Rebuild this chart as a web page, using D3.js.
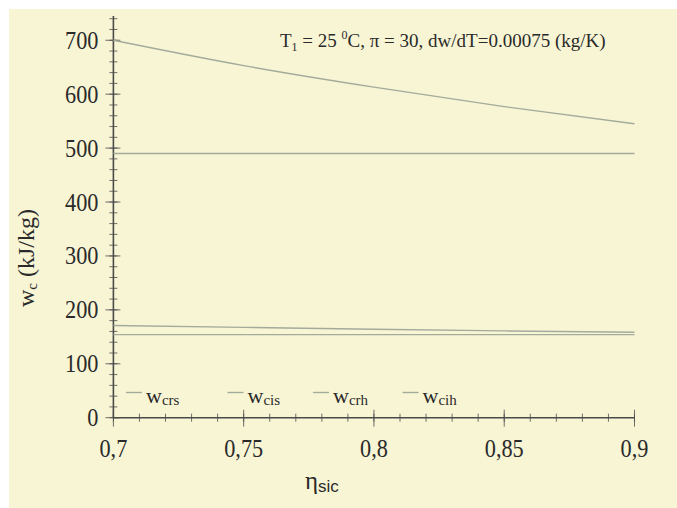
<!DOCTYPE html>
<html>
<head>
<meta charset="utf-8">
<script src="https://cdn.jsdelivr.net/npm/d3@7"></script>
<style>
  body { margin: 0; background: #fff; }
  svg { display: block; }
  text { font-family: "Liberation Serif", "Times New Roman", serif; fill: #2a2a2a; }
</style>
</head>
<body>
<div class="chart"></div>
<script>
// values
let eta = [0.7, 0.75, 0.8, 0.85, 0.9];
let wCrs = [700, 653, 613, 577, 545];
let wCis = [490, 490, 490, 490, 490];
let wCrh = [171, 167.5, 164, 161, 158.5];
let wCih = [154, 154, 154, 154, 154];
let seriesNames = ['crs', 'cis', 'crh', 'cih'];
let xTicks = [0.7, 0.75, 0.8, 0.85, 0.9];
let yTicks = [0, 100, 200, 300, 400, 500, 600, 700];

let W = 677, H = 508;
let margin = {top: 16, right: 42.5, bottom: 90.3, left: 113.4};
let width = W - margin.left - margin.right;
let height = H - margin.top - margin.bottom;

let svg = d3.select('.chart')
  .append('svg')
    .attr('width', W)
    .attr('height', H);

svg.append('rect')
  .attr('x', 9)
  .attr('y', 9)
  .attr('width', W - 9)
  .attr('height', H - 9)
  .style('fill', '#f8f5d5');

let g = svg.append('g')
  .attr('transform', `translate(${margin.left}, ${margin.top})`);

let xScale = d3.scaleLinear()
  .domain([0.7, 0.9])
  .range([0, width]);

let yScale = d3.scaleLinear()
  .domain([0, 745])
  .range([height, 0]);

let axisColor = '#4a4a4a';
let lineColor = '#a3ab9b';

// minor ticks (crossing the axis)
g.selectAll('.xminor')
  .data(d3.range(0.7, 0.9001, 0.01))
  .enter().append('line')
    .attr('x1', d => xScale(d)).attr('x2', d => xScale(d))
    .attr('y1', height - 4).attr('y2', height + 4)
    .style('stroke', axisColor).style('stroke-width', 0.8);

g.selectAll('.yminor')
  .data(d3.range(0, 745, 20))
  .enter().append('line')
    .attr('y1', d => yScale(d)).attr('y2', d => yScale(d))
    .attr('x1', -4).attr('x2', 4)
    .style('stroke', axisColor).style('stroke-width', 0.8);

// major ticks
g.selectAll('.xmajor')
  .data(xTicks)
  .enter().append('line')
    .attr('x1', d => xScale(d)).attr('x2', d => xScale(d))
    .attr('y1', height - 8).attr('y2', height + 9)
    .style('stroke', axisColor).style('stroke-width', 0.8);

g.selectAll('.ymajor')
  .data(yTicks)
  .enter().append('line')
    .attr('y1', d => yScale(d)).attr('y2', d => yScale(d))
    .attr('x1', -8).attr('x2', 7)
    .style('stroke', axisColor).style('stroke-width', 0.8);

// axis lines
g.append('line')
  .attr('x1', 0).attr('x2', width)
  .attr('y1', height).attr('y2', height)
  .style('stroke', axisColor).style('stroke-width', 1.6);
g.append('line')
  .attr('x1', 0).attr('x2', 0)
  .attr('y1', 0).attr('y2', height)
  .style('stroke', axisColor).style('stroke-width', 1.6);

// tick labels (the original font is narrow and tall)
g.selectAll('.xlabel')
  .data(xTicks)
  .enter().append('text')
    .attr('transform', d => `translate(${xScale(d)}, ${height + 39}) scale(0.89, 1)`)
    .attr('text-anchor', 'middle')
    .style('font-size', '25px')
    .text(d => String(d).replace('.', ','));

g.selectAll('.ylabel')
  .data(yTicks)
  .enter().append('text')
    .attr('transform', d => `translate(-15, ${yScale(d) + 8.5}) scale(0.89, 1)`)
    .attr('text-anchor', 'end')
    .style('font-size', '25px')
    .text(d => d);

// series
let series = [wCrs, wCis, wCrh, wCih];
let line = d3.line()
  .x((d, i) => xScale(eta[i]))
  .y(d => yScale(d))
  .curve(d3.curveMonotoneX);

g.selectAll('.series')
  .data(series)
  .enter().append('path')
    .attr('d', d => line(d))
    .style('fill', 'none')
    .style('stroke', lineColor)
    .style('stroke-width', 1.4);

// legend
let legendX = [126, 227.5, 313, 402.5];
let legend = svg.selectAll('.legend')
  .data(seriesNames)
  .enter().append('g')
    .attr('transform', (d, i) => `translate(${legendX[i]}, 392.5)`);
legend.append('line')
  .attr('x1', 0).attr('x2', 16)
  .style('stroke', lineColor).style('stroke-width', 1.4);
let lt = legend.append('text')
  .attr('x', 20)
  .attr('y', 10.5)
  .style('font-size', '22px');
lt.append('tspan').text('w');
lt.append('tspan')
  .attr('dy', 2)
  .style('font-size', '15px')
  .text(d => d);

// title
let title = svg.append('text')
  .attr('x', 280)
  .attr('y', 47)
  .style('font-size', '19px');
title.append('tspan').text('T');
title.append('tspan').attr('dy', 4).style('font-size', '12px').text('1');
title.append('tspan').attr('dy', -4).text(' = 25 ');
title.append('tspan').attr('dy', -8).style('font-size', '12px').text('0');
title.append('tspan').attr('dy', 8).text('C, π = 30, dw/dT=0.00075 (kg/K)');

// y axis title
let yt = svg.append('text')
  .attr('transform', 'translate(34, 258) rotate(-90)')
  .attr('text-anchor', 'middle')
  .style('font-size', '24px');
yt.append('tspan').text('w');
yt.append('tspan').attr('dy', 3).style('font-size', '15px').text('c');
yt.append('tspan').attr('dy', -3).text(' (kJ/kg)');

// x axis title
let xt = svg.append('text')
  .attr('x', 305)
  .attr('y', 489);
xt.append('tspan').style('font-size', '25px').text('η');
xt.append('tspan')
  .attr('dy', 3)
  .style('font-family', '"Liberation Sans", Arial, sans-serif')
  .style('font-size', '17px')
  .text('sic');
</script>
</body>
</html>
